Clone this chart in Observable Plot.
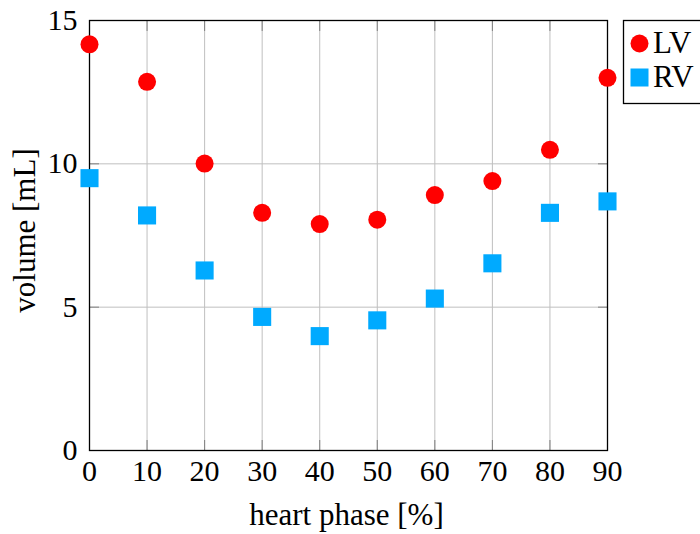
<!DOCTYPE html>
<html>
<head>
<meta charset="utf-8">
<script src="https://cdn.jsdelivr.net/npm/d3@7"></script>
<script src="https://cdn.jsdelivr.net/npm/@observablehq/plot@0.6"></script>
<style>
  html, body { margin: 0; padding: 0; background: #fff; }
  #chart svg { display: block; }
</style>
</head>
<body>
<div id="chart"></div>
<script>
// Heart phase (% of cycle) and ventricular volumes (mL)
const phases = [0, 10, 20, 30, 40, 50, 60, 70, 80, 90];
const lvVolume = [14.17, 12.86, 10.01, 8.29, 7.90, 8.05, 8.91, 9.40, 10.49, 13.0];
const rvVolume = [9.50, 8.20, 6.28, 4.66, 3.99, 4.54, 5.30, 6.53, 8.29, 8.69];
const xTicks = [0, 10, 20, 30, 40, 50, 60, 70, 80, 90];
const yTicks = [0, 5, 10, 15];
const seriesNames = ["LV", "RV"];
const xLabel = "heart phase [%]";
const yLabel = "volume [mL]";

const lvColor = "#ff0000";
const rvColor = "#00aaff";
const font = "'Liberation Serif', 'DejaVu Serif', serif";

const lv = phases.map((p, i) => ({phase: p, volume: lvVolume[i]}));
const rv = phases.map((p, i) => ({phase: p, volume: rvVolume[i]}));

const blank = () => "";

const chart = Plot.plot({
  width: 700,
  height: 534,
  marginLeft: 89,
  marginRight: 93,
  marginTop: 20,
  marginBottom: 84,
  style: {fontFamily: font, fontSize: "30px", color: "#000", background: "#fff"},
  x: {domain: [0, 90]},
  y: {domain: [0, 15]},
  marks: [
    Plot.gridX(xTicks, {stroke: "#bfbfbf", strokeOpacity: 1, strokeWidth: 1}),
    Plot.gridY(yTicks, {stroke: "#bfbfbf", strokeOpacity: 1, strokeWidth: 1}),
    // inward tick marks on all four sides
    Plot.axisX(xTicks, {anchor: "bottom", tickSize: -10, tickFormat: blank, label: null, stroke: "#808080"}),
    Plot.axisX(xTicks, {anchor: "top", tickSize: -10, tickFormat: blank, label: null, stroke: "#808080"}),
    Plot.axisY(yTicks, {anchor: "left", tickSize: -10, tickFormat: blank, label: null, stroke: "#808080"}),
    Plot.axisY(yTicks, {anchor: "right", tickSize: -10, tickFormat: blank, label: null, stroke: "#808080"}),
    // tick labels, set in the serif face
    Plot.text(xTicks, {x: d => d, frameAnchor: "bottom", textAnchor: "middle", lineAnchor: "top", dy: 9, fontSize: 30, fontFamily: font, fill: "#000"}),
    Plot.text(yTicks, {y: d => d, frameAnchor: "left", textAnchor: "end", lineAnchor: "middle", dx: -12, fontSize: 30, fontFamily: font, fill: "#000"}),
    Plot.frame({stroke: "#000", strokeWidth: 1.3}),
    Plot.dot(lv, {x: "phase", y: "volume", r: 9, fill: lvColor, symbol: "circle"}),
    Plot.dot(rv, {x: "phase", y: "volume", r: 10.2, fill: rvColor, symbol: "square"}),
    // axis titles
    Plot.text([xLabel], {frameAnchor: "bottom", textAnchor: "middle", lineAnchor: "middle", dy: 65, dx: -2, fontSize: 31, fill: "#000", fontFamily: font}),
    Plot.text([yLabel], {frameAnchor: "left", textAnchor: "middle", lineAnchor: "middle", rotate: -90, dx: -64, dy: -5, fontSize: 31, fill: "#000", fontFamily: font})
  ]
});

document.getElementById("chart").appendChild(chart);

// Legend box at the upper right, outside the plot frame
const svg = d3.select(chart);
const lg = svg.append("g")
  .attr("font-family", font)
  .attr("font-size", 31)
  .attr("text-anchor", "start");
lg.append("rect")
  .attr("x", 623.5).attr("y", 20.5).attr("width", 100).attr("height", 83)
  .attr("fill", "#fff").attr("stroke", "#000").attr("stroke-width", 1.3);
lg.append("circle").attr("cx", 639.5).attr("cy", 43.5).attr("r", 9).attr("fill", lvColor);
lg.append("rect").attr("x", 630.5).attr("y", 68.5).attr("width", 18).attr("height", 18).attr("fill", rvColor);
lg.selectAll("text.name").data(seriesNames).join("text")
  .attr("class", "name")
  .attr("x", 653).attr("y", (d, i) => 53 + i * 34)
  .attr("fill", "#000")
  .text(d => d);
</script>
</body>
</html>
